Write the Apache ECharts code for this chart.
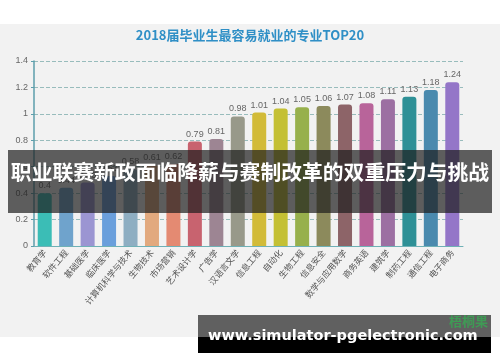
<!DOCTYPE html>
<html><head><meta charset="utf-8">
<script src="https://cdn.jsdelivr.net/npm/echarts@6/dist/echarts.min.js"></script>
<style>html,body{margin:0;padding:0;background:#fff}#c{width:500px;height:362px}</style>
</head><body><div id="c"></div>
<script>
const categories = ['教育学','软件工程','基础医学','临床医学','计算机科学与技术','生物技术','市场营销','艺术设计学','广告学','汉语言文学','信息工程','自动化','生物工程','信息安全','数学与应用数学','商务英语','建筑学','制药工程','通信工程','电子商务'];
const values = [0.4,0.44,0.48,0.53,0.58,0.61,0.62,0.79,0.81,0.98,1.01,1.04,1.05,1.06,1.07,1.08,1.11,1.13,1.18,1.24];
const barColors = ['#3bbdb6','#6fa3cc','#9b95d2','#6a9fdc','#8eaec2','#e2a97e','#e48a72','#c8636f','#9d8593','#98998a','#d2bb38','#c4c034','#97b04c','#8c8a5c','#8d6468','#b8649a','#9c6fa2','#2e9096','#4a8aae','#9476c8'];
const yTicks = [0,0.2,0.4,0.6,0.8,1,1.2,1.4];
const titleText = '2018届毕业生最容易就业的专业TOP20';
const bannerText = '职业联赛新政面临降薪与赛制改革的双重压力与挑战';
const siteText = 'www.simulator-pgelectronic.com';

function fitFont(text, family, weight, targetWidth) {
  const ctx = document.createElement('canvas').getContext('2d');
  ctx.font = weight + ' 100px ' + family;
  return Math.floor(100 * targetWidth / ctx.measureText(text).width * 10) / 10;
}
const siteSize = fitFont(siteText, '"DejaVu Sans"', 'bold', 270);
const bannerSize = fitFont(bannerText, '"Noto Sans CJK SC"', 'bold', 480);

const chart = echarts.init(document.getElementById('c'));
chart.setOption({
  backgroundColor: '#ffffff',
  animation: false,
  title: {text: titleText, left: 'center', top: 24, textStyle: {color: '#2f8fc6', fontSize: 13, fontWeight: 'bold', fontFamily: 'Noto Sans CJK SC'}},
  grid: {left: 34, right: 37, top: 61, bottom: 116},
  xAxis: {
    type: 'category', data: categories,
    axisLine: {lineStyle: {color: '#6fb1b6'}},
    axisTick: {lineStyle: {color: '#6fb1b6'}, length: 4},
    axisLabel: {rotate: 50, interval: 0, fontSize: 8.5, color: '#555', margin: 5, fontFamily: 'Noto Sans CJK SC'}
  },
  yAxis: {
    type: 'value', min: 0, max: 1.4, interval: 0.2,
    axisLine: {show: true, lineStyle: {color: '#5d9eab', width: 1.5}},
    axisTick: {show: true, length: 3, lineStyle: {color: '#5d9eab'}},
    axisLabel: {fontSize: 9, color: '#666', margin: 6, formatter: v => String(+v.toFixed(1))},
    splitLine: {lineStyle: {type: 'dashed', color: '#98bcbc'}}
  },
  series: [{
    type: 'bar', barWidth: 14,
    data: values.map((v, i) => ({value: v, itemStyle: {color: barColors[i]}})),
    itemStyle: {borderRadius: [3,3,0,0]},
    label: {show: true, position: 'top', fontSize: 9, color: '#666', distance: 3}
  }],
  graphic: [
    {type: 'rect', z: -10, shape: {x: 0, y: 24, width: 500, height: 313}, style: {fill: '#f2f2f2'}},
    {type: 'rect', z: 100, shape: {x: 8, y: 150, width: 484, height: 63}, style: {fill: 'rgba(30,30,30,0.7)'}},
    {type: 'text', z: 101, left: 'center', top: 170 - bannerSize / 2 + 2, style: {text: bannerText, fill: '#fff', font: 'bold ' + bannerSize + 'px "Noto Sans CJK SC"'}},
    {type: 'rect', z: 100, shape: {x: 198, y: 315, width: 293, height: 22}, style: {fill: '#606060'}},
    {type: 'rect', z: 100, shape: {x: 198, y: 337, width: 293, height: 16}, style: {fill: '#000'}},
    {type: 'text', z: 101, left: 208, top: 329, style: {text: siteText, fill: '#fff', font: 'bold ' + siteSize + 'px "DejaVu Sans"'}},
    {type: 'text', z: 102, left: 449, top: 315, style: {text: '梧桐果', fill: '#3f9a55', font: 'bold 13px "Noto Sans CJK SC"'}}
  ]
});
</script></body></html>
